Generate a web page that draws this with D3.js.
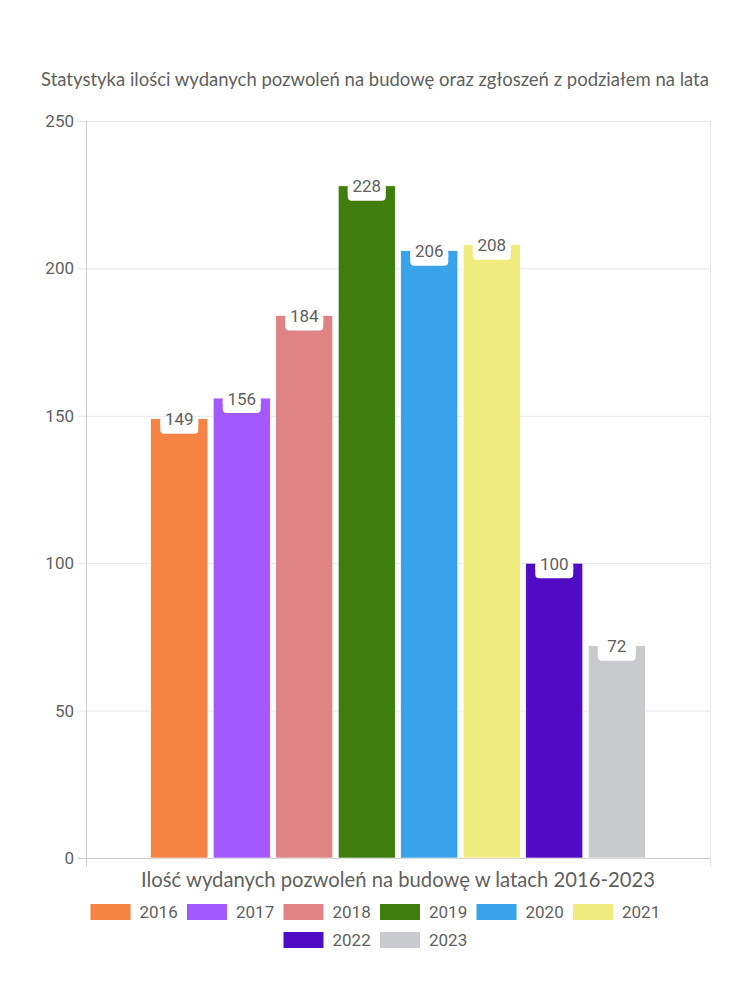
<!DOCTYPE html>
<html><head><meta charset="utf-8">
<script src="https://cdn.jsdelivr.net/npm/d3@7"></script>
<style>body{margin:0;background:#fff}svg{display:block}</style>
</head><body>
<svg id="c" width="750" height="1000"></svg>
<script>
const years = ["2016","2017","2018","2019","2020","2021","2022","2023"];
const values = [149,156,184,228,206,208,100,72];
const colors = ["#F58442","#A259FF","#E08385","#3F7D0D","#38A3EB","#F0EB7D","#500BC4","#C9CACE"];
const yTicks = [0,50,100,150,200,250];
const title = "Statystyka ilości wydanych pozwoleń na budowę oraz zgłoszeń z podziałem na lata";
const xTitle = "Ilość wydanych pozwoleń na budowę w latach 2016-2023";
const category = ["Ilość"];

const svg = d3.select("#c");
const L = 86, R = 710, T = 121, B = 858;
const font = "Lato, 'Noto Sans', sans-serif";
const txt = "#5f5f5f";

function fitText(sel, target){
  const w = sel.node().getComputedTextLength();
  const fs = parseFloat(sel.attr("font-size"));
  sel.attr("font-size", fs*target/w);
}

const y = d3.scaleLinear().domain([0,250]).range([B,T]);
const x0 = d3.scaleBand().domain(category).range([L,R]).padding(0);
const x1 = d3.scaleBand().domain(years).range([0,x0.bandwidth()]).paddingInner(0.088).paddingOuter(1.036);

const tt = svg.append("text").attr("x",375).attr("y",86).attr("text-anchor","middle")
  .attr("font-family",font).attr("font-size",16).attr("fill",txt).text(title);
fitText(tt, 668);

// grid
const g = svg.append("g");
g.selectAll("line.grid").data(yTicks).join("line")
  .attr("x1",L-8).attr("x2",R).attr("y1",d=>y(d)+0.5).attr("y2",d=>y(d)+0.5)
  .attr("stroke",d=>d===0?"#ccc":"#e6e6e6").attr("stroke-width",1);
g.selectAll("text.tick").data(yTicks).join("text")
  .attr("x",74).attr("y",d=>y(d)).attr("dy","0.35em").attr("text-anchor","end")
  .attr("font-family","Roboto, sans-serif").attr("font-size",17).attr("fill",txt).text(d=>d);
// axis lines
svg.append("line").attr("x1",L+0.5).attr("x2",L+0.5).attr("y1",T).attr("y2",B+8).attr("stroke","#ccc");
svg.append("line").attr("x1",R+0.5).attr("x2",R+0.5).attr("y1",T).attr("y2",B+8).attr("stroke","#e6e6e6");

// bars
const bars = svg.append("g").attr("transform",`translate(${x0(category[0])},0)`);
const data = years.map((yr,i)=>({yr, v:values[i], c:colors[i]}));
bars.selectAll("rect").data(data).join("rect")
  .attr("x",d=>x1(d.yr)).attr("width",x1.bandwidth())
  .attr("y",d=>y(d.v)).attr("height",d=>B-y(d.v))
  .attr("fill",d=>d.c).attr("stroke","#fff").attr("stroke-width",0.6);

// labels
const lab = bars.selectAll("g.lab").data(data).join("g")
  .attr("transform",d=>`translate(${x1(d.yr)+x1.bandwidth()/2},${y(d.v)})`);
lab.append("rect").attr("x",-19).attr("y",0).attr("width",38).attr("height",15).attr("rx",4)
  .attr("fill","#fff");
lab.append("rect").attr("x",-19).attr("y",0).attr("width",38).attr("height",6).attr("fill","#fff");
lab.append("text").attr("x",0).attr("y",6.5).attr("text-anchor","middle")
  .attr("font-family","Roboto, sans-serif").attr("font-size",17).attr("fill",txt).text(d=>d.v);

const xt = svg.append("text").attr("x",398).attr("y",887).attr("text-anchor","middle")
  .attr("font-family",font).attr("font-size",17).attr("fill",txt).text(xTitle);
fitText(xt, 514);

// legend
const rows = [years.slice(0,6), years.slice(6)];
const itemW = 96.5;
rows.forEach((row,ri)=>{
  const total = row.length*itemW - 10;
  const start = 375 - total/2 + 0;
  const lg = svg.append("g").attr("transform",`translate(${start},${904+ri*28})`);
  row.forEach((yr,j)=>{
    const i = years.indexOf(yr);
    const it = lg.append("g").attr("transform",`translate(${j*itemW},0)`);
    it.append("rect").attr("width",40).attr("height",16).attr("fill",colors[i]);
    it.append("text").attr("x",49).attr("y",8).attr("dy","0.35em")
      .attr("font-family","Roboto, sans-serif").attr("font-size",17).attr("fill",txt).text(yr);
  });
});
</script>
</body></html>
